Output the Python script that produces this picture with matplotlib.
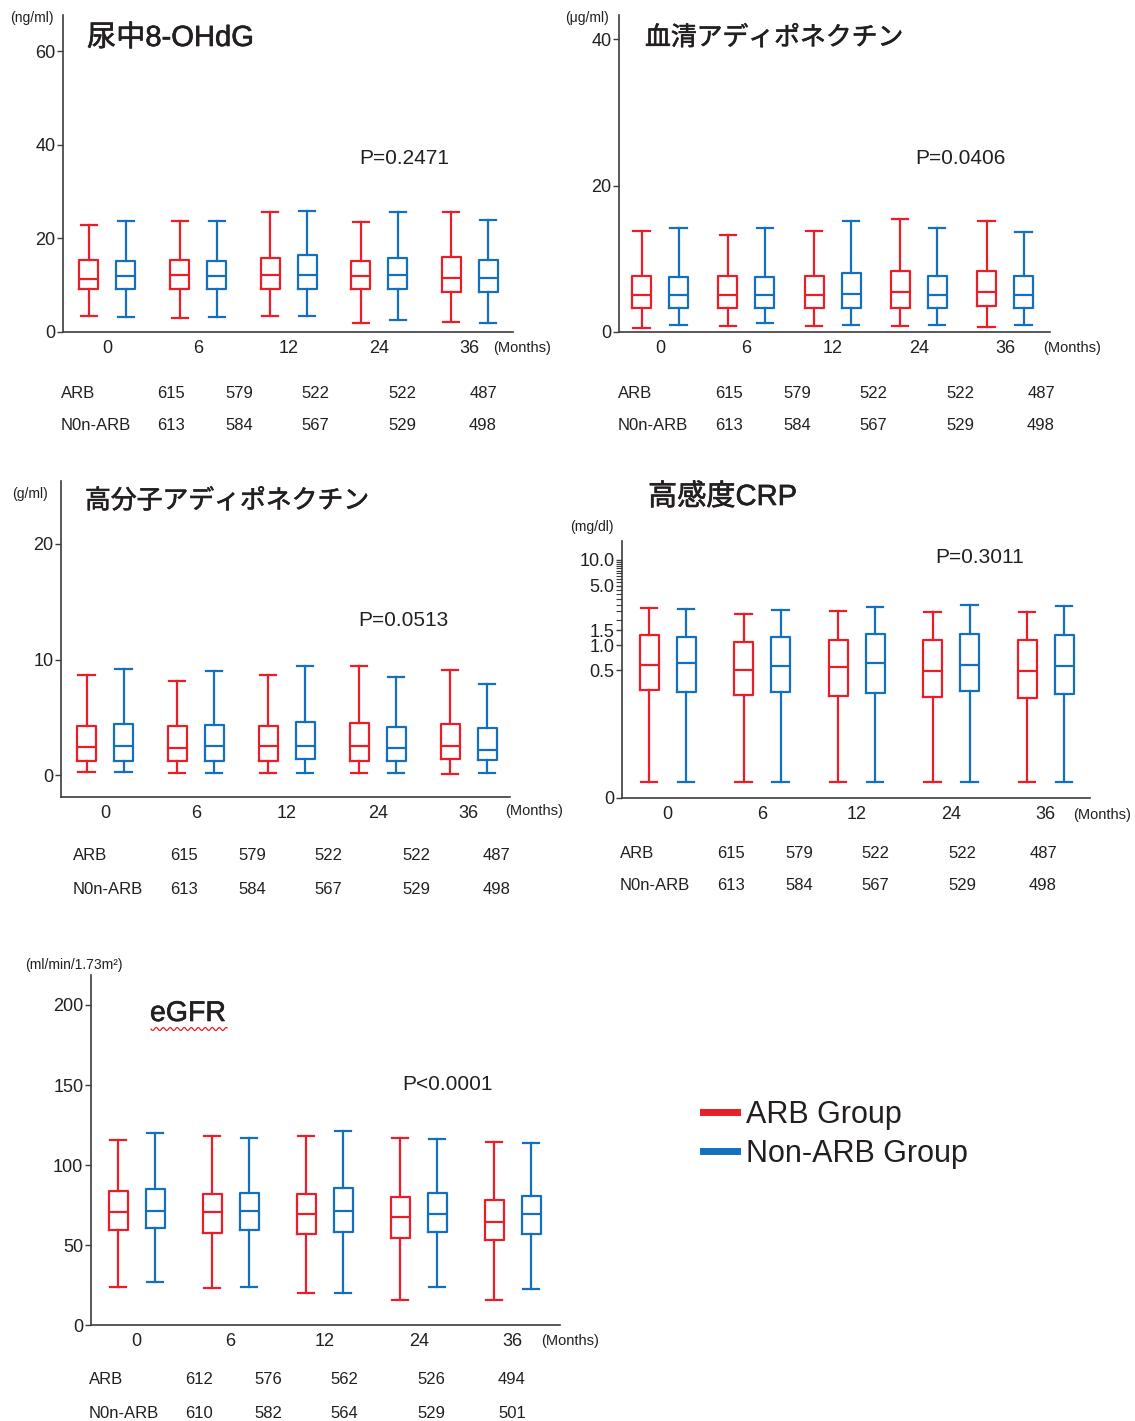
import numpy as np
import matplotlib
matplotlib.use("Agg")
import matplotlib.pyplot as plt
import matplotlib.patheffects as pe
from matplotlib.lines import Line2D
from matplotlib.ticker import FixedLocator, NullFormatter

plt.rcParams["font.family"] = ["Liberation Sans", "Noto Sans CJK JP", "DejaVu Sans"]

W, H, DPI = 1135, 1421, 100
RED = "#EA1D28"
BLUE = "#1470BF"
TXT = "#231F20"
AXC = "#3C3C3C"

months = ["0", "6", "12", "24", "36"]

# Box statistics per visit: [whisker low, Q1, median, Q3, whisker high]
ohdg_arb = [[3.5, 9.2, 11.4, 15.3, 22.9], [2.9, 9.2, 12.1, 15.3, 23.6],
            [3.4, 9.2, 12.1, 15.9, 25.6], [1.9, 9.1, 11.9, 15.2, 23.5],
            [2.1, 8.6, 11.5, 16.1, 25.7]]
ohdg_non = [[3.1, 9.2, 11.9, 15.2, 23.6], [3.1, 9.2, 11.9, 15.2, 23.8],
            [3.4, 9.2, 12.2, 16.4, 25.8], [2.6, 9.1, 12.1, 15.7, 25.6],
            [1.9, 8.6, 11.6, 15.3, 23.9]]

adipo_arb = [[0.5, 3.3, 5.1, 7.6, 13.8], [0.8, 3.3, 5.0, 7.6, 13.3],
             [0.8, 3.3, 5.0, 7.6, 13.8], [0.8, 3.3, 5.4, 8.3, 15.4],
             [0.7, 3.6, 5.4, 8.3, 15.2]]
adipo_non = [[1.0, 3.3, 5.0, 7.5, 14.2], [1.2, 3.3, 5.0, 7.5, 14.2],
             [1.0, 3.3, 5.2, 8.0, 15.1], [1.0, 3.3, 5.0, 7.7, 14.2],
             [1.0, 3.3, 5.0, 7.7, 13.7]]

hmw_arb = [[0.23, 1.2, 2.4, 4.24, 8.66], [0.14, 1.2, 2.34, 4.24, 8.1],
           [0.14, 1.2, 2.54, 4.24, 8.66], [0.14, 1.2, 2.54, 4.5, 9.4],
           [0.1, 1.4, 2.54, 4.4, 9.1]]
hmw_non = [[0.23, 1.2, 2.54, 4.44, 9.2], [0.14, 1.2, 2.54, 4.3, 9.03],
           [0.14, 1.36, 2.54, 4.6, 9.47], [0.14, 1.2, 2.3, 4.2, 8.5],
           [0.2, 1.3, 2.2, 4.1, 7.86]]

crp_arb = [[0.009, 0.29, 0.58, 1.31, 2.74], [0.009, 0.25, 0.50, 1.10, 2.35],
           [0.009, 0.24, 0.55, 1.14, 2.52], [0.009, 0.235, 0.49, 1.14, 2.45],
           [0.009, 0.23, 0.49, 1.15, 2.45]]
crp_non = [[0.009, 0.27, 0.61, 1.24, 2.67], [0.009, 0.27, 0.556, 1.26, 2.62],
           [0.009, 0.266, 0.61, 1.34, 2.84], [0.009, 0.28, 0.58, 1.37, 2.96],
           [0.009, 0.26, 0.56, 1.32, 2.89]]

egfr_arb = [[24.0, 59.2, 70.8, 83.8, 115.6], [23.3, 57.3, 70.8, 81.9, 118.3],
            [20.2, 57.1, 69.6, 81.9, 118.3], [15.6, 54.2, 67.7, 80.0, 117.1],
            [15.6, 52.9, 64.4, 77.9, 114.6]]
egfr_non = [[26.9, 60.6, 71.5, 85.2, 119.8], [24.0, 59.2, 71.5, 82.7, 116.7],
            [20.2, 58.1, 71.5, 85.4, 121.5], [23.5, 58.3, 69.6, 82.5, 116.3],
            [22.7, 56.9, 69.6, 80.6, 113.5]]

# Number of patients per visit
n_arb = [615, 579, 522, 522, 487]
n_non = [613, 584, 567, 529, 498]
n_arb_egfr = [612, 576, 562, 526, 494]
n_non_egfr = [610, 582, 564, 529, 501]

fig = plt.figure(figsize=(W / DPI, H / DPI), dpi=DPI)


def fx(x):
    return x / W


def fy(y):
    return 1 - y / H


def put(x, y, s, size, ha="left", va="center", **kw):
    fig.text(fx(x), fy(y), s, fontsize=size, ha=ha, va=va, color=TXT, **kw)


def title(x, y, s, size):
    # regular face thickened slightly with a thin outline of the same colour
    put(x, y, s, size,
        path_effects=[pe.withStroke(linewidth=0.45, foreground=TXT)])


def stats_of(rows):
    return [dict(whislo=r[0], q1=r[1], med=r[2], q3=r[3], whishi=r[4], fliers=[])
            for r in rows]


def panel(px, arb, non, ylim, yticks, yticklabels=None, scale=None):
    left, top, right, bottom, g0, step = px
    ax = fig.add_axes([fx(left), fy(bottom), (right - left) / W, (bottom - top) / H])
    if scale is not None:
        ax.set_yscale("function", functions=scale)
    pos = np.arange(len(months))
    off = 18.5 / step
    bw = 19.0 / step
    for rows, sgn, col in ((arb, -1, RED), (non, 1, BLUE)):
        lp = dict(color=col, linewidth=1.6)
        ax.bxp(stats_of(rows), positions=pos + sgn * off, widths=bw,
               capwidths=bw * 0.85, showfliers=False,
               boxprops=lp, whiskerprops=lp, capprops=lp, medianprops=lp,
               manage_ticks=False)
    ax.set_xlim((left - g0) / step, (right - g0) / step)
    ax.set_ylim(*ylim)
    ax.set_xticks(pos)
    ax.set_xticklabels(months)
    ax.set_yticks(yticks)
    if yticklabels is not None:
        ax.set_yticklabels(yticklabels)
    for s in ("top", "right"):
        ax.spines[s].set_visible(False)
    for s in ("left", "bottom"):
        ax.spines[s].set_color(AXC)
        ax.spines[s].set_linewidth(1.2)
    ax.tick_params(axis="x", length=0, pad=6, labelsize=13, labelcolor=TXT)
    ax.tick_params(axis="y", length=4, width=1.0, color=AXC, pad=1.5,
                   labelsize=13, labelcolor=TXT)
    ax.patch.set_alpha(0)
    return ax


def table(xl, xs, ys, arb_n, non_n):
    put(xl, ys[0], "ARB", 12)
    put(xl, ys[1], "N0n-ARB", 12)
    for x, a, b in zip(xs, arb_n, non_n):
        put(x, ys[0], str(a), 12, ha="center")
        put(x, ys[1], str(b), 12, ha="center")


# --- 尿中8-OHdG ---
panel((63, 15, 513, 332, 107.5, 90.6), ohdg_arb, ohdg_non, (0, 67.7), [0, 20, 40, 60])
title(87, 38, "尿中8-OHdG", 21)
put(10, 18, "(ng/ml)", 10)
put(404, 158, "P=0.2471", 15, ha="center")
put(493, 348, "(Months)", 10.5)
table(61, [171, 239, 315, 402, 483], [393, 426], n_arb, n_non)

# --- 血清アディポネクチン ---
panel((619, 15, 1050, 332, 660, 86.25), adipo_arb, adipo_non, (0, 43.3), [0, 20, 40])
title(645, 38, "血清アディポネクチン", 18.6)
put(565, 18, "(μg/ml)", 10)
put(960, 158, "P=0.0406", 15, ha="center")
put(1043, 348, "(Months)", 10.5)
table(618, [729, 797, 873, 960, 1041], [393, 426], n_arb, n_non)

# --- 高分子アディポネクチン ---
panel((61, 481, 510, 797, 105, 90.9), hmw_arb, hmw_non, (-1.9, 25.45), [0, 10, 20])
title(85, 501, "高分子アディポネクチン", 18.6)
put(12, 494, "(g/ml)", 10)
put(403, 621, "P=0.0513", 15, ha="center")
put(505, 811, "(Months)", 10.5)
table(73, [184, 252, 328, 416, 497], [856, 889], n_arb, n_non)

# --- 高感度CRP (log-type axis that still reaches 0) ---
CRP_C = 0.0168


def crp_fwd(y):
    return np.log10(np.maximum(np.asarray(y, dtype=float) + CRP_C, 1e-9))


def crp_inv(v):
    return 10.0 ** np.asarray(v, dtype=float) - CRP_C


ax4 = panel((622, 541, 1090, 798, 667.5, 94.5), crp_arb, crp_non, (0, 16.6),
            [0, 0.5, 1.0, 1.5, 5.0, 10.0], ["0", "0.5", "1.0", "1.5", "5.0", "10.0"],
            scale=(crp_fwd, crp_inv))
minor = [v for v in np.arange(2.0, 10.0, 0.5) if v != 5.0]
ax4.yaxis.set_minor_locator(FixedLocator(minor))
ax4.yaxis.set_minor_formatter(NullFormatter())
ax4.tick_params(axis="y", which="minor", length=4, width=0.8, color=AXC)
title(648, 497, "高感度CRP", 21)
put(570, 527, "(mg/dl)", 10)
put(980, 557, "P=0.3011", 15, ha="center")
put(1073, 815, "(Months)", 10.5)
table(620, [731, 799, 875, 962, 1043], [853, 886], n_arb, n_non)

# --- eGFR ---
panel((91, 975, 560, 1325, 136.5, 94.1), egfr_arb, egfr_non, (0, 218.75),
      [0, 50, 100, 150, 200])
title(150, 1014, "eGFR", 20.5)
put(25, 965, "(ml/min/1.73m²)", 10)
put(448, 1084, "P<0.0001", 15, ha="center")
put(541, 1341, "(Months)", 10.5)
table(89, [199, 268, 344, 431, 512], [1380, 1413], n_arb_egfr, n_non_egfr)

# wavy underline beneath the eGFR title
wx = np.linspace(151, 227, 120)
wy = 1029 + 1.5 * np.sin((wx - 151) / 7.0 * 2 * np.pi)
fig.add_artist(Line2D(fx(wx), fy(wy), color=RED, linewidth=0.9,
                      transform=fig.transFigure))

# --- legend ---
handles = [Line2D([], [], color=RED, linewidth=5),
           Line2D([], [], color=BLUE, linewidth=5)]
fig.legend(handles, ["ARB Group", "Non-ARB Group"], loc="upper left",
           bbox_to_anchor=(fx(703), fy(1100)), frameon=False, fontsize=22,
           handlelength=1.1, handletextpad=0.3, labelspacing=0.28,
           borderpad=0, borderaxespad=0, labelcolor=TXT)

fig.savefig("out.png", dpi=DPI)
